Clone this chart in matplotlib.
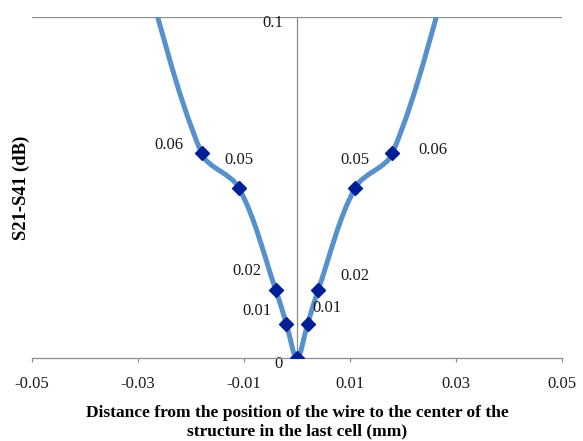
import matplotlib
matplotlib.use("Agg")
import math
import matplotlib.pyplot as plt
from matplotlib.path import Path
from matplotlib.patches import PathPatch
import matplotlib.transforms as mtransforms

# ---- data ----
x_vals = [-0.03, -0.018, -0.011, -0.004, -0.002, 0.0, 0.002, 0.004, 0.011, 0.018, 0.03]
y_vals = [0.12, 0.06, 0.05, 0.02, 0.01, 0.0, 0.01, 0.02, 0.05, 0.06, 0.12]
point_labels = ["", "0.06", "0.05", "0.02", "0.01", "", "0.01", "0.02", "0.05", "0.06", ""]
label_offsets_px = [(0, 0), (-33, 8), (0, 27), (-29, 19), (-29, 13), (0, 0),
                    (19, 16), (37, 14), (0, 27), (41, 3), (0, 0)]
x_ticks = [-0.05, -0.03, -0.01, 0.01, 0.03, 0.05]
x_tick_labels = ["-0.05", "-0.03", "-0.01", "0.01", "0.03", "0.05"]
y_ticks = [0.0, 0.1]
y_tick_labels = ["0", "0.1"]
x_label = "Distance from the position of the wire to the center of the\nstructure in the last cell (mm)"
y_label = "S21-S41 (dB)"

LINE_C = "#5691CC"
MARK_C = "#001E96"
AX_C = "#8C8C8C"
FONT = "Liberation Serif"

plt.rcParams["font.family"] = [FONT, "DejaVu Serif"]

W, H = 583, 441
fig = plt.figure(figsize=(W / 100, H / 100), dpi=100)
ax = fig.add_axes([32 / W, 1 - 358.3 / H, 530 / W, 341.6 / H])
ax.set_xlim(-0.05, 0.05)
ax.set_ylim(0, 0.1)

# smooth line: bezier through the data points, tangents computed in screen space
xs_scale = 530 / 0.1
ys_scale = 341.6 / 0.1
pts = [(xv * xs_scale, yv * ys_scale) for xv, yv in zip(x_vals, y_vals)]
n = len(pts)


def dist(a, b):
    return math.hypot(a[0] - b[0], a[1] - b[1])


verts = [pts[0]]
codes = [Path.MOVETO]
for i in range(n - 1):
    p0 = pts[i - 1] if i > 0 else pts[i]
    p1 = pts[i]
    p2 = pts[i + 1]
    p3 = pts[i + 2] if i + 2 < n else pts[i + 1]
    d01, d12, d23 = dist(p0, p1), dist(p1, p2), dist(p2, p3)
    f1 = d12 / (d01 + d12) / 3 if d01 + d12 > 0 else 0
    f2 = d12 / (d12 + d23) / 3 if d12 + d23 > 0 else 0
    c1 = (p1[0] + (p2[0] - p0[0]) * f1, p1[1] + (p2[1] - p0[1]) * f1)
    c2 = (p2[0] - (p3[0] - p1[0]) * f2, p2[1] - (p3[1] - p1[1]) * f2)
    verts += [c1, c2, p2]
    codes += [Path.CURVE4] * 3
verts = [(vx / xs_scale, vy / ys_scale) for vx, vy in verts]
patch = PathPatch(Path(verts, codes), facecolor="none", edgecolor=LINE_C, lw=3.6,
                  capstyle="round", joinstyle="round", zorder=3)
ax.add_patch(patch)
patch.set_clip_path(ax.patch)

ax.plot(x_vals, y_vals, linestyle="none", marker="D", markersize=7,
        color=MARK_C, zorder=4)

for xv, yv, lab, off in zip(x_vals, y_vals, point_labels, label_offsets_px):
    if lab:
        ax.annotate(lab, (xv, yv), xytext=off, textcoords="offset pixels",
                    ha="center", va="center", fontsize=12, color="#1a1a1a")

# axes styling
for s in ["top", "right"]:
    ax.spines[s].set_visible(False)
ax.spines["left"].set_position(("data", 0))
ax.spines["left"].set_color(AX_C)
ax.spines["bottom"].set_color(AX_C)
ax.spines["left"].set_linewidth(0.9)
ax.spines["bottom"].set_linewidth(0.9)
ax.axhline(0.1, color=AX_C, lw=0.9, zorder=1)

ax.set_xticks(x_ticks)
ax.set_xticklabels(x_tick_labels, fontsize=12, color="#1a1a1a")
ax.tick_params(axis="x", direction="out", length=3, width=0.9, color=AX_C, pad=10)
ax.set_yticks(y_ticks)
ax.set_yticklabels(y_tick_labels, fontsize=12, color="#1a1a1a")
ax.tick_params(axis="y", length=0, pad=10)
for lab in ax.get_yticklabels():
    lab.set_transform(lab.get_transform() +
                      mtransforms.ScaledTranslation(0, -4 / 100, fig.dpi_scale_trans))

ax.set_xlabel(x_label, fontsize=12.5, fontweight="bold", linespacing=1.2)
ax.xaxis.set_label_coords(0.5, -0.138)
ax.xaxis.label.set_va("top")
ax.set_ylabel(y_label, fontsize=13.5, fontweight="bold")
ax.yaxis.set_label_coords(-0.0194, 0.4985)
ax.yaxis.label.set_va("center")

fig.savefig("out.png", dpi=100)
